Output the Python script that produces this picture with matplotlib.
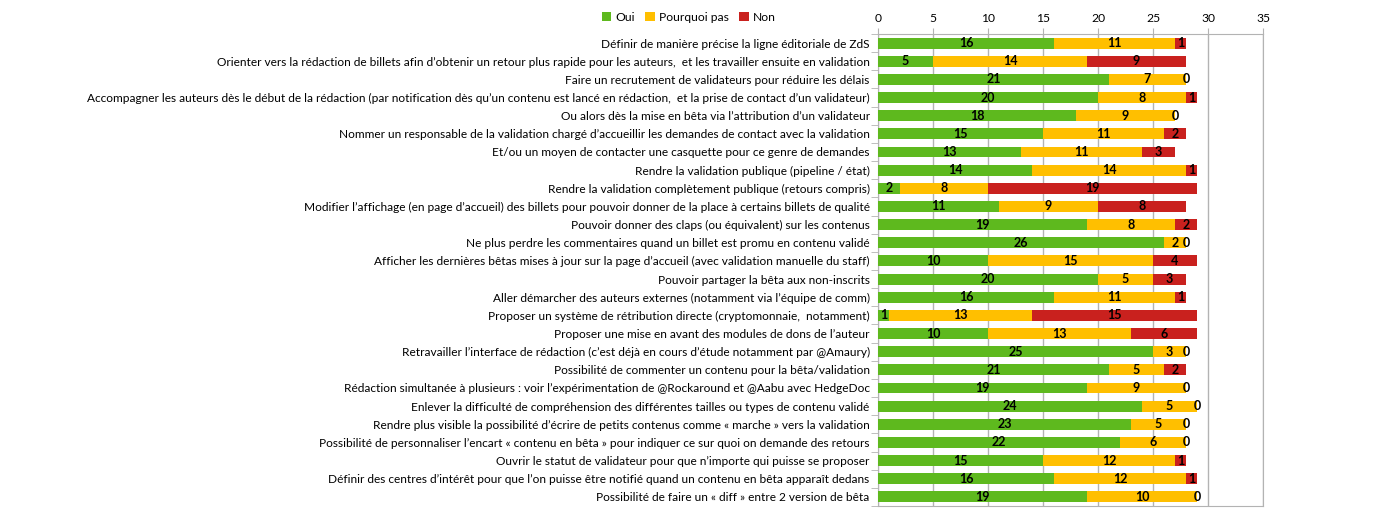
import matplotlib.pyplot as plt
import numpy as np

plt.rcParams['font.family'] = ['Lato', 'DejaVu Sans']

questions = [
    "Définir de manière précise la ligne éditoriale de ZdS",
    "Orienter vers la rédaction de billets afin d’obtenir un retour plus rapide pour les auteurs,  et les travailler ensuite en validation",
    "Faire un recrutement de validateurs pour réduire les délais",
    "Accompagner les auteurs dès le début de la rédaction (par notification dès qu’un contenu est lancé en rédaction,  et la prise de contact d’un validateur)",
    "Ou alors dès la mise en bêta via l’attribution d’un validateur",
    "Nommer un responsable de la validation chargé d’accueillir les demandes de contact avec la validation",
    "Et/ou un moyen de contacter une casquette pour ce genre de demandes",
    "Rendre la validation publique (pipeline / état)",
    "Rendre la validation complètement publique (retours compris)",
    "Modifier l’affichage (en page d’accueil) des billets pour pouvoir donner de la place à certains billets de qualité",
    "Pouvoir donner des claps (ou équivalent) sur les contenus",
    "Ne plus perdre les commentaires quand un billet est promu en contenu validé",
    "Afficher les dernières bêtas mises à jour sur la page d’accueil (avec validation manuelle du staff)",
    "Pouvoir partager la bêta aux non-inscrits",
    "Aller démarcher des auteurs externes (notamment via l’équipe de comm)",
    "Proposer un système de rétribution directe (cryptomonnaie,  notamment)",
    "Proposer une mise en avant des modules de dons de l’auteur",
    "Retravailler l’interface de rédaction (c’est déjà en cours d’étude notamment par @Amaury)",
    "Possibilité de commenter un contenu pour la bêta/validation",
    "Rédaction simultanée à plusieurs : voir l’expérimentation de @Rockaround et @Aabu avec HedgeDoc",
    "Enlever la difficulté de compréhension des différentes tailles ou types de contenu validé",
    "Rendre plus visible la possibilité d’écrire de petits contenus comme « marche » vers la validation",
    "Possibilité de personnaliser l’encart « contenu en bêta » pour indiquer ce sur quoi on demande des retours",
    "Ouvrir le statut de validateur pour que n’importe qui puisse se proposer",
    "Définir des centres d’intérêt pour que l’on puisse être notifié quand un contenu en bêta apparaît dedans",
    "Possibilité de faire un « diff » entre 2 version de bêta",
]

oui = [16, 5, 21, 20, 18, 15, 13, 14, 2, 11, 19, 26, 10, 20, 16, 1, 10, 25, 21, 19, 24, 23, 22, 15, 16, 19]
pourquoi_pas = [11, 14, 7, 8, 9, 11, 11, 14, 8, 9, 8, 2, 15, 5, 11, 13, 13, 3, 5, 9, 5, 5, 6, 12, 12, 10]
non = [1, 9, 0, 1, 0, 2, 3, 1, 19, 8, 2, 0, 4, 3, 1, 15, 6, 0, 2, 0, 0, 0, 0, 1, 1, 0]

series = [("Oui", oui, "#5eb91e"), ("Pourquoi pas", pourquoi_pas, "#ffbf00"), ("Non", non, "#c9211e")]

fig = plt.figure(figsize=(13.8, 5.16), dpi=100)
ax = fig.add_axes([878 / 1380, 1 - 506 / 516, 385 / 1380, 472 / 516])

y = np.arange(len(questions))
left = np.zeros(len(questions))
for name, vals, col in series:
    vals = np.array(vals, dtype=float)
    ax.barh(y, vals, left=left, height=0.6, color=col, label=name, zorder=3)
    # label au milieu de chaque segment
    for yi, l, v in zip(y, left, vals):
        ax.text(l + v / 2, yi, str(int(v)), ha="center", va="center",
                fontsize=9, fontweight="bold", color="black", zorder=4)
    left += vals

ax.set_xlim(0, 35)
ax.set_ylim(len(questions) - 0.5, -0.5)
ax.set_xticks(range(0, 36, 5))
ax.xaxis.tick_top()
ax.grid(axis="x", color="#b3b3b3", linewidth=1, zorder=0)
ax.set_yticks(y)
ax.set_yticklabels(questions, fontsize=8.6)
ax.set_yticks(np.arange(-0.5, len(questions)), minor=True)
ax.tick_params(axis="y", which="major", length=0, pad=6)
ax.tick_params(axis="y", which="minor", length=5, color="#b3b3b3")
ax.tick_params(axis="x", length=4, color="#b3b3b3", labelsize=8.7, pad=3)
for s in ax.spines.values():
    s.set_color("#b3b3b3")

fig.legend(loc="center", bbox_to_anchor=(0.499, 0.967), ncol=3, frameon=False,
           fontsize=8.7, handlelength=0.8, handleheight=0.8, handletextpad=0.3,
           columnspacing=0.9)

fig.savefig("out.png", dpi=100)
